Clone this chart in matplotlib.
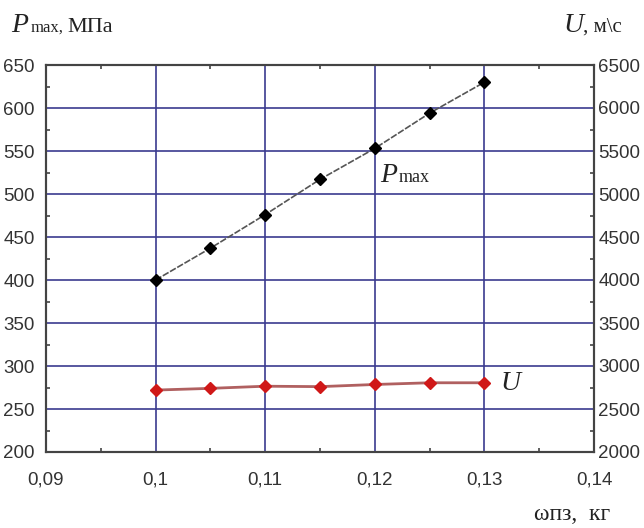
import matplotlib
matplotlib.use("Agg")
import matplotlib.pyplot as plt
from matplotlib.ticker import MultipleLocator

# omega_pz, kg
mass = [0.1, 0.105, 0.11, 0.115, 0.12, 0.125, 0.13]
p_max = [400, 437, 476, 517, 553, 594, 630]        # MPa
u_vel = [2720, 2740, 2765, 2760, 2785, 2805, 2805]  # m/s

x_ticks = [0.09, 0.1, 0.11, 0.12, 0.13, 0.14]
x_labels = ["0,09", "0,1", "0,11", "0,12", "0,13", "0,14"]

sans = ["Liberation Sans", "DejaVu Sans"]
serif = ["Liberation Serif", "DejaVu Serif"]
txt_c = "#222222"

W, H = 644, 528
fig = plt.figure(figsize=(W / 100, H / 100), dpi=100)
fig.patch.set_facecolor("white")
ax = fig.add_axes([46 / W, 1 - 452 / H, (594 - 46) / W, (452 - 65) / H])
ax2 = ax.twinx()

ax.set_xlim(0.09, 0.14)
ax.set_ylim(200, 650)
ax2.set_ylim(2000, 6500)

grid_c = "#3b3b8f"
for v in [0.1, 0.11, 0.12, 0.13]:
    ax.axvline(v, color=grid_c, lw=1.2, zorder=1)
for v in range(250, 650, 50):
    ax.axhline(v, color=grid_c, lw=1.2, zorder=1)

ax.plot(mass, p_max, color="#555555", lw=1.2, ls=(0, (4, 1)), zorder=3)
ax.plot(mass, p_max, ls="none", marker="D", ms=6, color="black", zorder=4)
ax2.plot(mass, u_vel, color="#b06060", lw=2, zorder=3)
ax2.plot(mass, u_vel, ls="none", marker="D", ms=6, color="#d01818", zorder=4)

ax.set_xticks(x_ticks)
ax.set_xticklabels(x_labels)
ax.xaxis.set_minor_locator(MultipleLocator(0.005))
ax.yaxis.set_major_locator(MultipleLocator(50))
ax.yaxis.set_minor_locator(MultipleLocator(25))
ax2.yaxis.set_major_locator(MultipleLocator(500))
ax2.yaxis.set_minor_locator(MultipleLocator(250))

for a in (ax, ax2):
    for s in a.spines.values():
        s.set_color("#444444")
        s.set_linewidth(1.5)
ax.tick_params(axis="y", which="major", length=0, pad=8)
ax.tick_params(axis="x", which="major", length=0, pad=14)
ax.tick_params(axis="both", which="minor", direction="in", length=3, width=1.2,
               color="#444444", top=True)
ax2.tick_params(axis="y", which="major", length=0, pad=3)
ax2.tick_params(axis="y", which="minor", direction="in", length=3, width=1.2, color="#444444")

for lbl in ax.get_xticklabels() + ax.get_yticklabels() + ax2.get_yticklabels():
    lbl.set_fontfamily(sans)
    lbl.set_fontsize(13.5)
    lbl.set_color("#333333")


def px(x, y):
    return x / W, 1 - y / H


# axis titles
fig.text(*px(11, 32), "P", fontsize=20, family=serif, style="italic", color=txt_c, va="baseline")
fig.text(*px(31, 32), "max,", fontsize=12, family=serif, color=txt_c, va="baseline")
fig.text(*px(67, 32), "МПа", fontsize=16, family=serif, color=txt_c, va="baseline")
fig.text(*px(563, 32), "U", fontsize=20, family=serif, style="italic", color=txt_c, va="baseline")
fig.text(*px(583, 32), ", м\\с", fontsize=15, family=serif, color=txt_c, va="baseline")
fig.text(*px(534, 520), "ωпз,  кг", fontsize=17, family=serif, color=txt_c, va="baseline")

# curve labels
ax.text(0.1205, 514, "P", fontsize=20, family=serif, style="italic", color=txt_c, va="baseline", zorder=5)
ax.text(0.12215, 514, "max", fontsize=13, family=serif, color=txt_c, va="baseline", zorder=5)
ax2.text(0.1315, 2800, "U", fontsize=20, family=serif, style="italic", color=txt_c, va="center")

fig.savefig("out.png", dpi=100, facecolor="white")
